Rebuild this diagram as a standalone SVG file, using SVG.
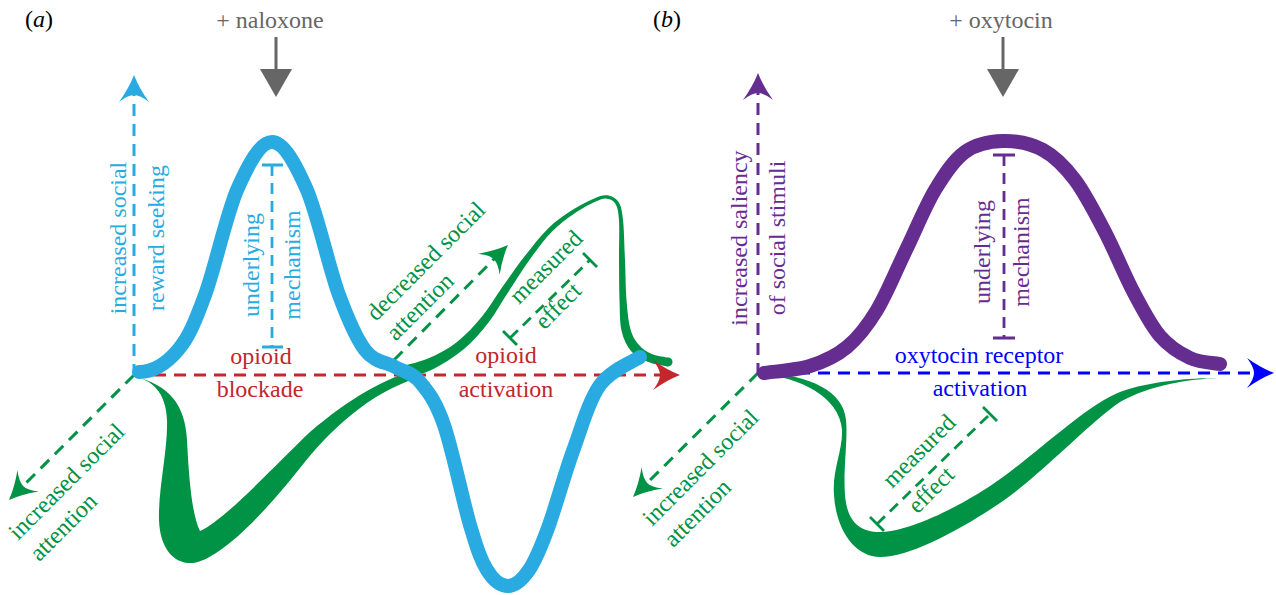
<svg xmlns="http://www.w3.org/2000/svg" width="1276" height="595" viewBox="0 0 1276 595">
<style>
.t{font-family:"Liberation Serif","DejaVu Serif",serif;font-size:24px}
.ax{fill:none;stroke-width:3;stroke-dasharray:12 8}
.bar{fill:none;stroke-width:2.8;stroke-dasharray:11 7}
.cap{fill:none;stroke-width:2.8}
.cb{stroke:#29ABE2}.cr{stroke:#C1272D}.cg{stroke:#009245}.cp{stroke:#662D91}.cu{stroke:#0000FF}
.fb{fill:#29ABE2}.fr{fill:#C1272D}.fg{fill:#009245}.fp{fill:#662D91}.fu{fill:#0000FF}.fk{fill:#666666}
</style>
<defs>
<path id="ahp" d="M0,0 Q-13,-5 -27,-15 Q-20,-6 -20,0 Q-20,6 -27,15 Q-13,5 0,0 Z"/>
<marker id="m-b" viewBox="-28 -16 30 32" refX="-18" refY="0" markerWidth="30" markerHeight="32" markerUnits="userSpaceOnUse" orient="auto"><use href="#ahp" fill="#29ABE2"/></marker>
<marker id="m-r" viewBox="-28 -16 30 32" refX="-18" refY="0" markerWidth="30" markerHeight="32" markerUnits="userSpaceOnUse" orient="auto"><use href="#ahp" fill="#C1272D"/></marker>
<marker id="m-g" viewBox="-28 -16 30 32" refX="-18" refY="0" markerWidth="30" markerHeight="32" markerUnits="userSpaceOnUse" orient="auto"><use href="#ahp" fill="#009245"/></marker>
<marker id="m-p" viewBox="-28 -16 30 32" refX="-18" refY="0" markerWidth="30" markerHeight="32" markerUnits="userSpaceOnUse" orient="auto"><use href="#ahp" fill="#662D91"/></marker>
<marker id="m-u" viewBox="-28 -16 30 32" refX="-18" refY="0" markerWidth="30" markerHeight="32" markerUnits="userSpaceOnUse" orient="auto"><use href="#ahp" fill="#0000FF"/></marker>
</defs>

<g id="panel-a">
  <text class="t" x="25" y="27" fill="#000">(<tspan font-style="italic">a</tspan>)</text>
  <g id="naloxone">
    <text class="t fk" x="270" y="28" text-anchor="middle">+ naloxone</text>
    <path d="M276,37 V72" stroke="#666666" stroke-width="3"/>
    <path d="M260,69 H292 L276,97 Z" class="fk"/>
  </g>
  <g id="green-curve-a" class="fg">
    <path d="M133,376 C152,380 166,392 167,420 C168,450 158,490 159,520 C160,550 175,564 192,563 C215,561 255,525 300,468 C330,430 370,392 420,377 L421,368 C385,378 350,398 310,432 C275,465 225,520 200,531 C192,515 189,480 187,440 C185,405 170,385 133,376 Z"/>
    <path d="M398.4,367 C403.3,365.5 418.1,362.5 427.9,358.4 C437.8,354.3 448.4,348.8 457,341.9 C466,335 474.3,326 481.8,316.8 C489.3,307.7 495,297.5 502,287.5 C509.2,277.3 517,266 524.8,256 C532.6,246.2 540.5,235.9 548.3,228.2 C556.2,220.6 564.3,215.2 571.9,210.3 C579.6,205.3 588.4,200.9 594.3,198.4 C600.2,195.9 603.2,194.7 607.2,195.3 C611.2,195.9 615.9,198 618.5,202.1 C621.1,206.2 621.9,210.2 623,219.8 C624.1,229.5 624.4,246.7 625,260 C625.6,273.3 625.6,288.3 626.5,299.8 C627.4,311.3 628.4,321.4 630.4,328.9 C632.5,336.4 635.2,340.5 638.8,344.7 C642.4,348.9 646.8,351.8 651.8,353.9 C656.8,356.1 666.1,357 669,357.6 A4.5,4.5 0 0 1 667,366.4 C663.9,365.7 654.2,364.6 648.2,362.1 C642.2,359.6 635.6,356.5 631.2,351.3 C626.8,346.1 623.5,339.6 621.6,331.1 C619.7,322.6 619.9,312.1 619.5,300.2 C619.1,288.3 619.1,273.3 619,260 C618.9,246.7 619.6,229.5 619,220.2 C618.4,210.9 617.5,207.5 615.5,203.9 C613.5,200.3 610.1,199.1 606.8,198.7 C603.5,198.3 601.1,199.1 595.7,201.6 C590.3,204.1 581.5,208.7 574.1,213.7 C566.7,218.7 559.3,224.2 551.8,231.8 C544.4,239.4 536.8,249.8 529.4,259.9 C522.2,270 515,281.8 508.1,292.3 C501.2,302.7 495.8,313.3 488.3,322.8 C480.8,332.5 472.4,342.1 463.1,349.8 C453.8,357.5 442.8,364.5 432.4,369.4 C422.1,374.4 406.8,377.6 401.6,379 Z"/>
  </g>
  <g id="axes-a">
    <path class="ax cg" d="M134,375 L21.7,487.3" marker-end="url(#m-g)"/>
    <path class="ax cg" d="M394,360 L495.3,257.8" marker-end="url(#m-g)"/>
    <path class="ax cr" d="M134,375 H662" marker-end="url(#m-r)"/>
    <path class="ax cb" d="M134,376 V93" marker-end="url(#m-b)"/>
  </g>
  <g id="measures-a">
    <path class="bar cb" d="M272,165 V347"/>
    <path class="cap cb" d="M262,165 H283 M262,347 H283"/>
    <path class="bar cg" d="M510,338 L590,260"/>
    <path class="cap cg" d="M503,331 L517,345 M583,253 L597,267"/>
  </g>
  <g id="blue-curve-a">
    <path d="M139,372 C155,372 167,363 178,350 C189,337 195,322 205,295 C215,268 226,216 237,190 C248,165 260,142 272,142 C284,142 296,165 307,190 C318,216 329,268 339,295 C349,322 356,338 365,350 C374,362 386,362 395,367 C404,372 412,372 420,382 C428.2,391.7 435.7,401.2 444,425 C452.3,448.8 462.8,500.8 470,525 C477.2,549.2 480.7,559.8 487,570 C493.3,580.2 501,586 508,586 C515,586 522.3,579.7 529,570 C535.7,560.3 540.7,547.8 548,528 C555.3,508.2 564.3,474.8 573,451 C581.7,427.2 588.8,400.7 600,385 C611.2,369.3 633.3,361.7 640,357" fill="none" stroke="#29ABE2" stroke-width="14" stroke-linecap="round"/>
  </g>
  <g id="labels-a">
    <text class="t fb" transform="translate(126,238) rotate(-90)" text-anchor="middle">increased social</text>
    <text class="t fb" transform="translate(164,238) rotate(-90)" text-anchor="middle">reward seeking</text>
    <text class="t fb" transform="translate(259,265) rotate(-90)" text-anchor="middle">underlying</text>
    <text class="t fb" transform="translate(300,265) rotate(-90)" text-anchor="middle">mechanism</text>
    <text class="t fr" x="261" y="364" text-anchor="middle">opioid</text>
    <text class="t fr" x="260" y="397" text-anchor="middle">blockade</text>
    <text class="t fr" x="506" y="363" text-anchor="middle">opioid</text>
    <text class="t fr" x="506" y="397" text-anchor="middle">activation</text>
    <text class="t fg" transform="translate(376,322) rotate(-45)"><tspan x="0" y="0">decreased social</tspan><tspan x="0" y="28">attention</tspan></text>
    <text class="t fg" transform="translate(519,305) rotate(-45)"><tspan x="0" y="0">measured</tspan><tspan x="0" y="36">effect</tspan></text>
    <text class="t fg" transform="translate(18,541) rotate(-45)"><tspan x="0" y="0">increased social</tspan><tspan x="0" y="30">attention</tspan></text>
  </g>
</g>

<g id="panel-b">
  <text class="t" x="653" y="27" fill="#000">(<tspan font-style="italic">b</tspan>)</text>
  <g id="oxytocin">
    <text class="t fk" x="1001" y="28" text-anchor="middle">+ oxytocin</text>
    <path d="M1003,37 V72" stroke="#666666" stroke-width="3"/>
    <path d="M987,69 H1019 L1003,97 Z" class="fk"/>
  </g>
  <g id="green-curve-b" class="fg">
    <path d="M760,374 C795,376 840,395 842,430 C843,450 832,470 834,495 C836,530 855,557 880,557 C910,557 960,530 1000,503 C1040,476 1090,422 1120,402 C1150,385 1190,379 1218,378 C1190,378 1150,381 1120,392 C1090,403 1040,450 1003,477 C966,504 910,532 880,532 C858,532 847,520 845,495 C843,470 848,440 846,420 C844,392 810,374 760,373 Z"/>
  </g>
  <g id="axes-b">
    <path class="ax cg" d="M758,373 L645.8,484.3" marker-end="url(#m-g)"/>
    <path class="ax cu" d="M758,373 H1256" marker-end="url(#m-u)"/>
    <path class="ax cp" d="M758,375 V91" marker-end="url(#m-p)"/>
  </g>
  <g id="measures-b">
    <path class="bar cp" d="M1004,155 V338"/>
    <path class="cap cp" d="M993,155 H1015 M993,338 H1015"/>
    <path class="bar cg" d="M877,524 L990,414"/>
    <path class="cap cg" d="M870,517 L884,531 M983,407 L997,421"/>
  </g>
  <g id="purple-curve-b">
    <path d="M764,373 C771.7,371.8 796.2,370.3 810,366 C823.8,361.7 835.8,356.3 847,347 C858.2,337.7 867.2,326.2 877,310 C886.8,293.8 896.3,270 906,250 C915.7,230 925.2,206.3 935,190 C944.8,173.7 953.7,160.2 965,152 C976.3,143.8 990,141.3 1003,141 C1016,140.7 1031,143.5 1043,150 C1055,156.5 1064.7,166.3 1075,180 C1085.3,193.7 1095.2,213.2 1105,232 C1114.8,250.8 1124.8,275.7 1134,293 C1143.2,310.3 1150.7,325.2 1160,336 C1169.3,346.8 1180,353.3 1190,358 C1200,362.7 1215,363 1220,364" fill="none" stroke="#662D91" stroke-width="14" stroke-linecap="round"/>
  </g>
  <g id="labels-b">
    <text class="t fp" transform="translate(747,238) rotate(-90)" text-anchor="middle">increased saliency</text>
    <text class="t fp" transform="translate(785,238) rotate(-90)" text-anchor="middle">of social stimuli</text>
    <text class="t fp" transform="translate(990,252) rotate(-90)" text-anchor="middle">underlying</text>
    <text class="t fp" transform="translate(1029,252) rotate(-90)" text-anchor="middle">mechanism</text>
    <text class="t fu" x="979" y="363" text-anchor="middle">oxytocin receptor</text>
    <text class="t fu" x="980" y="396" text-anchor="middle">activation</text>
    <text class="t fg" transform="translate(892,489) rotate(-45)"><tspan x="0" y="0">measured</tspan><tspan x="0" y="36">effect</tspan></text>
    <text class="t fg" transform="translate(652,527) rotate(-45)"><tspan x="0" y="0">increased social</tspan><tspan x="0" y="30">attention</tspan></text>
  </g>
</g>
</svg>
